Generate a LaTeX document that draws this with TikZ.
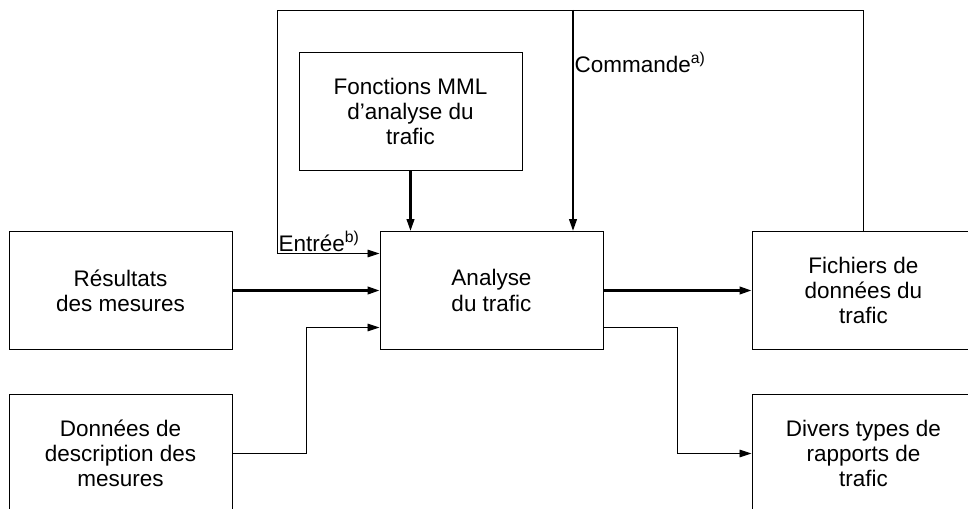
\documentclass[tikz,border=0pt]{standalone}
\usepackage{fontspec}
\setmainfont{Liberation Sans}
\usetikzlibrary{positioning,arrows.meta,calc}

\begin{document}
\begin{tikzpicture}[x=0.25mm, y=-0.25mm,
        every node/.style={font=\fontsize{16}{18}\selectfont, align=center},
        box/.style={draw, line width=0.7pt, minimum width=55.75mm, minimum height=29.5mm, inner sep=0pt},
        arr/.style={-{Triangle[length=3mm,width=1.9mm]}, line width=0.65pt},
        thickarr/.style={arr, line width=1.6pt},
        lbl/.style={inner sep=1pt}
      ]
        \useasboundingbox (0,0) rectangle (968,509);
        \clip (0,0) rectangle (968,509);
        \node[box] (ana) at (491.5,290.5) {Analyse\\du trafic};
        \node[box, left=36.75mm of ana]             (res)  {Résultats\\des mesures};
        \node[box, below=11mm of res]               (don)  {Données de\\description des\\mesures};
        \node[box, above=15mm of ana, xshift=-20.25mm] (fonc) {Fonctions MML\\d’analyse du\\trafic};
        \node[box, right=37mm of ana]               (fich) {Fichiers de\\données du\\trafic};
        \node[box, below=11mm of fich]              (div)  {Divers types de\\rapports de\\trafic};
        \coordinate (topL) at (277,10);
        \coordinate (cmd) at ($(ana.north)+(81.5,0)$);
        % feedback loop and commands
        \draw[arr] (fich.north) |- (topL) |- ($(ana.west)+(0,-37)$);
        \node[lbl, anchor=south west] (entree) at ($(topL |- ana.west)+(0,-37)$) {Entrée\textsuperscript{b)}};
        \draw[thickarr] (cmd |- topL) -- (cmd);
        \node[lbl, anchor=west] (commande) at ($(cmd |- topL)+(0,52)$) {Commande\textsuperscript{a)}};
        \draw[thickarr] (fonc.south) -- (fonc.south |- ana.north);
        % inputs and outputs
        \draw[thickarr] (res.east) -- (ana.west);
        \draw[arr] (don.east) -- ++(18.5mm,0) |- ($(ana.west)+(0,37)$);
        \draw[thickarr] (ana.east) -- (fich.west);
        \draw[arr] ($(ana.east)+(0,37)$) -- ++(18.5mm,0) |- (div.west);
      \end{tikzpicture}
\end{document}
